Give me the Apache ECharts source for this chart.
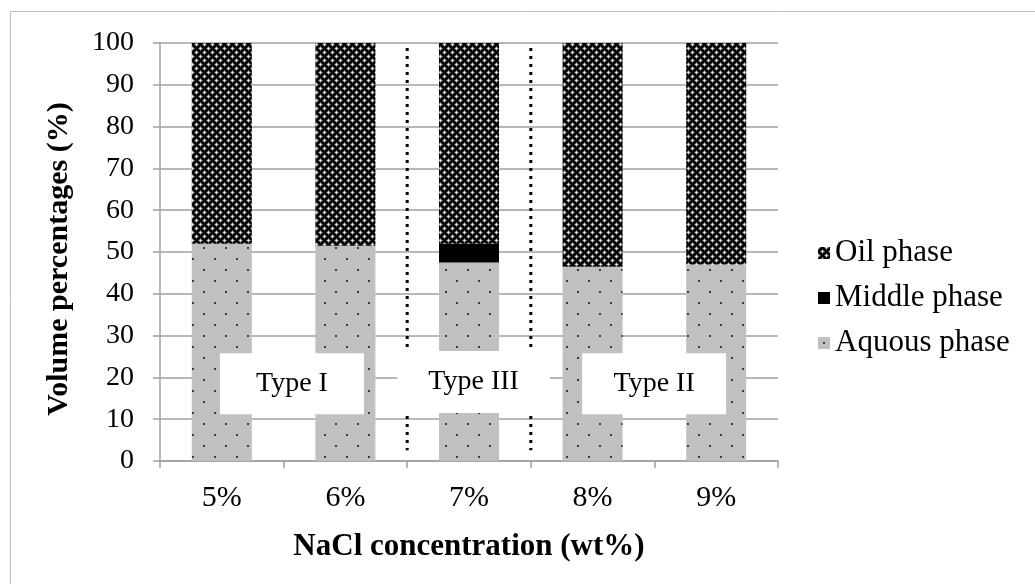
<!DOCTYPE html>
<html>
<head>
<meta charset="utf-8">
<script src="https://cdn.jsdelivr.net/npm/echarts@6/dist/echarts.min.js"></script>
<style>
html,body{margin:0;padding:0;background:#fff;}
#chart{width:1035px;height:584px;}
</style>
</head>
<body>
<div id="chart"></div>
<script>
// ---- data ----
const categories = ['5%', '6%', '7%', '8%', '9%'];
const aqueousPhase = [52, 51.5, 47.5, 46.5, 47];
const middlePhase = [0, 0, 4.5, 0, 0];
const oilPhase = [48, 48.5, 48, 53.5, 53];
const yTicks = [0, 10, 20, 30, 40, 50, 60, 70, 80, 90, 100];
const typeLabels = ['Type I', 'Type III', 'Type II'];

// ---- patterns ----
function oilPattern() {
  const c = document.createElement('canvas');
  c.width = 8; c.height = 8;
  const ctx = c.getContext('2d');
  ctx.fillStyle = '#000';
  ctx.fillRect(0, 0, 8, 8);
  const centers = [[0,0],[8,0],[0,8],[8,8],[4,4]];
  for (let x = 0; x < 8; x++) {
    for (let y = 0; y < 8; y++) {
      for (const [cx, cy] of centers) {
        const d = Math.abs(x - cx) + Math.abs(y - cy);
        if (d === 0) { ctx.fillStyle = '#ffffff'; ctx.fillRect(x, y, 1, 1); }
        else if (d === 1) { ctx.fillStyle = '#b0b0b0'; ctx.fillRect(x, y, 1, 1); }
        else if (d === 2) { ctx.fillStyle = '#606060'; ctx.fillRect(x, y, 1, 1); }
      }
    }
  }
  return c;
}
function aqPattern() {
  const c = document.createElement('canvas');
  c.width = 22; c.height = 22;
  const ctx = c.getContext('2d');
  ctx.fillStyle = '#c0c0c0';
  ctx.fillRect(0, 0, 22, 22);
  ctx.fillStyle = '#3a3a3a';
  ctx.fillRect(5, 5, 2, 2);
  ctx.fillRect(16, 16, 2, 2);
  return c;
}

const FONT = '"Liberation Serif", "Times New Roman", serif';
const chart = echarts.init(document.getElementById('chart'), null, {renderer: 'canvas'});

const oilColor = {image: oilPattern(), repeat: 'repeat'};
const aqColor = {image: aqPattern(), repeat: 'repeat'};

const option = {
  animation: false,
  backgroundColor: '#fff',
  grid: {left: 160, right: 257, top: 43, bottom: 123, containLabel: false},
  legend: {
    orient: 'vertical',
    left: 813, top: 232,
    itemWidth: 12, itemHeight: 12,
    itemGap: 13,
    icon: 'rect',
    data: ['Oil phase', 'Middle phase', 'Aquous phase'],
    textStyle: {fontFamily: FONT, fontSize: 31, lineHeight: 32, color: '#000'},
    itemStyle: {borderWidth: 0}
  },
  xAxis: {
    type: 'category',
    data: categories,
    name: 'NaCl concentration (wt%)',
    nameLocation: 'middle',
    nameGap: 70,
    nameTextStyle: {fontFamily: FONT, fontSize: 31, fontWeight: 'bold', color: '#000'},
    axisLine: {lineStyle: {color: '#a0a0a0', width: 1.5}},
    axisTick: {show: true, length: 7, lineStyle: {color: '#a0a0a0', width: 1.5}},
    axisLabel: {fontFamily: FONT, fontSize: 30, color: '#000', margin: 22}
  },
  yAxis: {
    type: 'value',
    min: 0, max: 100, interval: 10,
    name: 'Volume percentages (%)',
    nameLocation: 'middle',
    nameGap: 86,
    nameRotate: 90,
    nameTextStyle: {fontFamily: FONT, fontSize: 30, fontWeight: 'bold', color: '#000',
      padding: [0, 14, 0, 0]},
    axisLine: {show: true, lineStyle: {color: '#a0a0a0', width: 1.5}},
    axisTick: {show: true, length: 7, lineStyle: {color: '#a0a0a0', width: 1.5}},
    axisLabel: {fontFamily: FONT, fontSize: 28, color: '#000', margin: 26,
      formatter: v => yTicks.includes(v) ? String(v) : ''},
    splitLine: {lineStyle: {color: '#a0a0a0', width: 1.5}}
  },
  series: [
    {name: 'Aquous phase', type: 'bar', stack: 'v', barWidth: 60, data: aqueousPhase,
     itemStyle: {color: aqColor}},
    {name: 'Middle phase', type: 'bar', stack: 'v', barWidth: 60, data: middlePhase,
     itemStyle: {color: '#000'}},
    {name: 'Oil phase', type: 'bar', stack: 'v', barWidth: 60, data: oilPhase,
     itemStyle: {color: oilColor}}
  ]
};
chart.setOption(option);

// ---- annotations (dotted separators and type boxes) in data coordinates ----
function px(catIdx, val) {
  const p0 = chart.convertToPixel({gridIndex: 0}, [0, val]);
  const p1 = chart.convertToPixel({gridIndex: 0}, [1, val]);
  return [p0[0] + catIdx * (p1[0] - p0[0]), p0[1]];
}
const separators = [1.5, 2.5];
const boxes = [
  {from: -0.015, to: 1.15, lo: 11.2, hi: 25.8},
  {from: 1.42, to: 2.655, lo: 11.5, hi: 26.3},
  {from: 2.915, to: 4.08, lo: 11.2, hi: 25.8}
];
const elements = [];
// outer border
elements.push({type: 'rect', shape: {x: 10.5, y: 11.5, width: 1100, height: 700},
  style: {fill: null, stroke: '#bdbdbd', lineWidth: 1}, z: 1});
separators.forEach(s => {
  const a = px(s, 98.8), b = px(s, 2.6);
  elements.push({type: 'line', shape: {x1: a[0], y1: a[1], x2: b[0], y2: b[1]},
    style: {stroke: '#000', lineWidth: 3, lineDash: [3, 5]}, z: 10});
});
boxes.forEach((bx, i) => {
  const a = px(bx.from, bx.hi), b = px(bx.to, bx.lo);
  elements.push({type: 'rect', shape: {x: a[0], y: a[1], width: b[0] - a[0], height: b[1] - a[1]},
    style: {fill: '#fff'}, z: 20});
  elements.push({type: 'text', x: (a[0] + b[0]) / 2, y: (a[1] + b[1]) / 2,
    style: {text: typeLabels[i], fontFamily: FONT, fontSize: 28, fill: '#000',
      align: 'center', verticalAlign: 'middle'}, z: 21});
});
chart.setOption({graphic: {elements: elements}});
</script>
</body>
</html>
